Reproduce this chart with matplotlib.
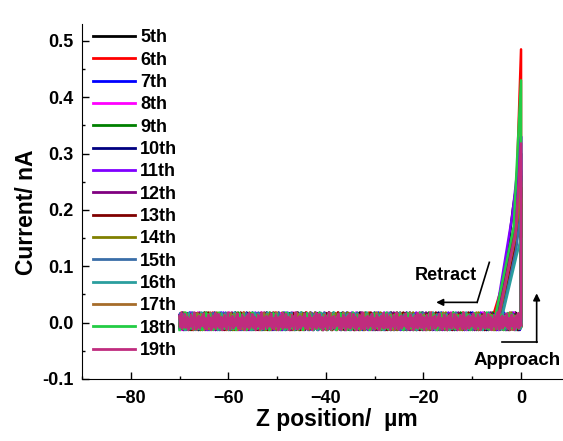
import numpy as np
import matplotlib.pyplot as plt

plt.rcParams['font.family'] = ['Liberation Sans', 'DejaVu Sans']

# cycle labels and Origin-style colours
labels = ['5th', '6th', '7th', '8th', '9th', '10th', '11th', '12th', '13th',
          '14th', '15th', '16th', '17th', '18th', '19th']
colors = ['#000000', '#FF0000', '#0000FF', '#FF00FF', '#008000', '#000080',
          '#8000FF', '#800080', '#800000', '#808000', '#3A6EA8', '#2A9E9E',
          '#A66C2A', '#22CC44', '#C02C7E']

# peak current at z = 0 (nA)
peaks = [0.30, 0.485, 0.33, 0.29, 0.26, 0.21, 0.33, 0.27, 0.24, 0.22,
         0.20, 0.15, 0.25, 0.43, 0.318]
# shoulder of the retract curve (z, current)
knee_z = [-1.7, -1.3, -1.4, -1.2, -1.5, -1.0, -1.8, -1.3, -1.1, -1.4,
          -1.0, -0.9, -1.2, -1.5, -1.1]
knee_i = [0.20, 0.14, 0.17, 0.16, 0.15, 0.15, 0.19, 0.16, 0.14, 0.15,
          0.13, 0.12, 0.15, 0.17, 0.16]
# where the retract curve meets the baseline (um)
onset = [-4.3, -5.8, -4.8, -4.6, -5.0, -4.2, -5.2, -4.9, -4.5, -4.4,
         -4.0, -3.9, -4.7, -5.3, -4.6]

# baseline jitter (nA)
jitter = [0.004, -0.006, 0.011, -0.002, 0.016, -0.009, 0.002, 0.008, -0.012,
          0.005, -0.003, 0.014, -0.007, 0.001, 0.009, -0.013, 0.006, -0.004,
          0.012, -0.008, 0.003, 0.017, -0.010, 0.000, 0.007, -0.005, 0.015,
          -0.009, 0.004, -0.001, 0.010, -0.013, 0.006, 0.002, -0.007, 0.013,
          -0.003, 0.008, -0.011, 0.005, 0.018, -0.004, 0.001, -0.012, 0.009,
          0.003, -0.006, 0.012, -0.010, 0.007]
z_start = -70.0

fig = plt.figure(figsize=(5.63, 4.41), dpi=100)
ax = fig.add_axes([0.1456, 0.1406, 0.8544, 0.805])

base = np.tile(jitter, 11)
for k, (lab, c) in enumerate(zip(labels, colors)):
    nz = np.roll(base, 13 * k)[: len(base) - 3 * k]
    zb = np.linspace(z_start, 0, len(nz))
    z = np.concatenate([zb, [0, knee_z[k], onset[k]]])
    cur = np.concatenate([nz, [peaks[k], knee_i[k], 0.010]])
    ax.plot(z, cur, color=c, lw=1.8, label=lab)

# annotations
ax.annotate('', xy=(-17.4, 0.036), xytext=(-9.0, 0.036),
            arrowprops=dict(arrowstyle='-|>', color='black', lw=1.2,
                            mutation_scale=10, shrinkA=0, shrinkB=0))
ax.plot([-9.0, -6.5], [0.036, 0.107], color='black', lw=1.2)
ax.text(-15.4, 0.084, 'Retract', fontsize=13, fontweight='bold',
        ha='center', va='center')
ax.plot([-3.95, 3.2], [-0.035, -0.035], color='black', lw=1.2)
ax.annotate('', xy=(3.2, 0.052), xytext=(3.2, -0.035),
            arrowprops=dict(arrowstyle='-|>', color='black', lw=1.2,
                            mutation_scale=10, shrinkA=0, shrinkB=0))
ax.text(-0.8, -0.068, 'Approach', fontsize=13.5, fontweight='bold',
        ha='center', va='center')

ax.set_xlim(-90, 8.6)
ax.set_ylim(-0.1, 0.53)
ax.set_xticks([-80, -60, -40, -20, 0])
ax.set_xticks(np.arange(-90, 10, 10), minor=True)
ax.set_yticks(np.arange(-0.1, 0.51, 0.1))
ax.set_yticks(np.arange(-0.1, 0.51, 0.05), minor=True)
ax.set_yticklabels(['%.1f' % v for v in np.arange(-0.1, 0.51, 0.1)])
for s in ['top', 'right']:
    ax.spines[s].set_visible(False)
ax.tick_params(which='major', direction='in', length=5, width=1,
               labelsize=13, pad=6)
ax.tick_params(axis='x', which='major', pad=8)
ax.tick_params(which='minor', direction='in', length=2.5, width=1)
for t in ax.get_xticklabels() + ax.get_yticklabels():
    t.set_fontweight('bold')

ax.set_xlabel('Z position/  \u00b5m', fontsize=16.5, fontweight='bold')
ax.set_ylabel('Current/ nA', fontsize=16.5, fontweight='bold')
ax.xaxis.set_label_coords((337 - 82) / 481.0, -0.083)
ax.yaxis.set_label_coords(-0.092, 0.47)

leg = ax.legend(loc='upper left', bbox_to_anchor=(0.023, 0.985), frameon=False,
                prop={'size': 13, 'weight': 'bold'}, handlelength=2.3,
                handletextpad=0.3, labelspacing=0.295, borderaxespad=0,
                borderpad=0)
for h in leg.get_lines():
    h.set_linewidth(2)

fig.savefig('out.png', dpi=100)
